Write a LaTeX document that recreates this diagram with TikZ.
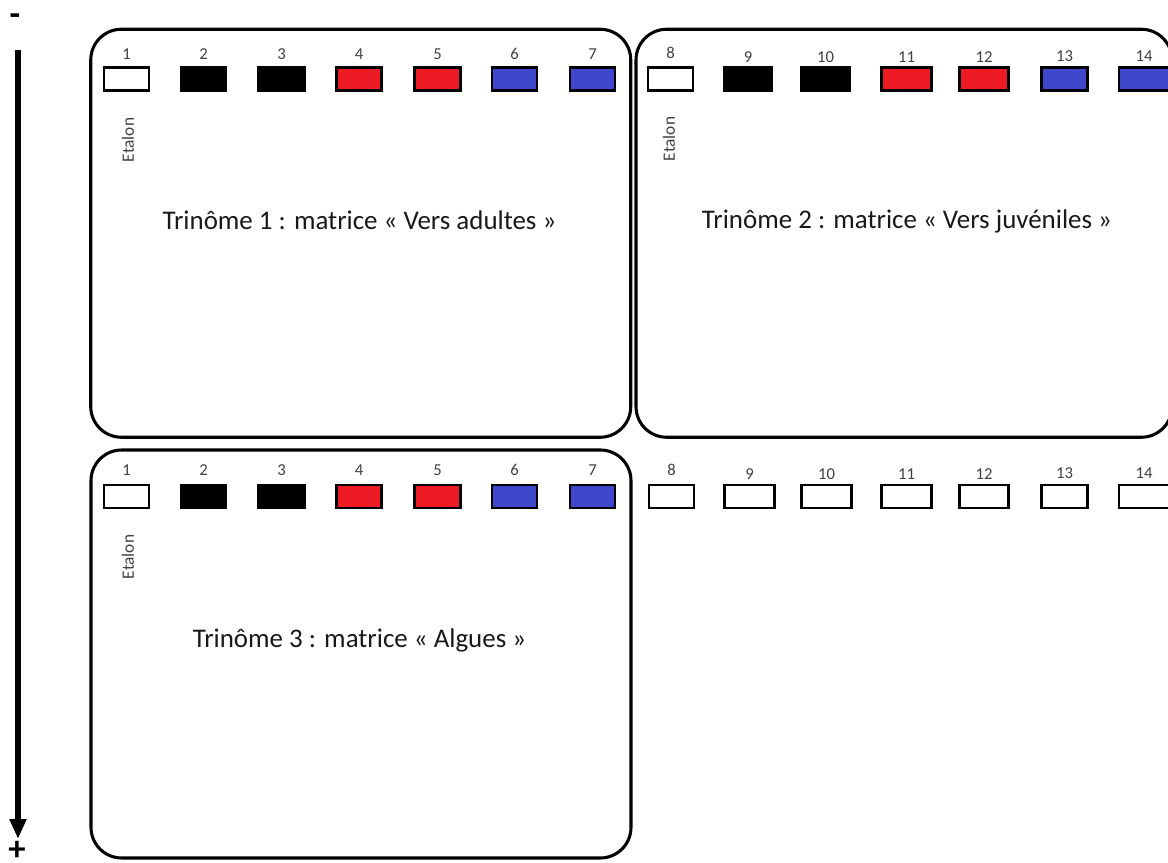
\documentclass[tikz,border=0pt]{standalone}
\usepackage{fontspec}
\setmainfont{Carlito}
\usetikzlibrary{arrows.meta}
\definecolor{wellred}{HTML}{ED1C24}
\definecolor{wellblue}{HTML}{3F48CC}
\definecolor{numgray}{HTML}{404040}
\tikzset{
  frame/.style={draw=black, line width=2.3pt, rounded corners=23pt, inner sep=0pt},
  slot/.style={draw=black, line width=1.9pt, inner sep=0pt, minimum height=17pt},
  wellnum/.style={text=numgray, font=\fontsize{12.5}{14}\selectfont, inner sep=0pt},
  etalon/.style={text=numgray, font=\fontsize{13}{15}\selectfont, rotate=90, inner sep=0pt},
  title/.style={text=black!90, font=\fontsize{20.2}{24}\selectfont, inner sep=0pt},
  sign/.style={font=\fontsize{26}{28}\selectfont\bfseries, inner sep=0pt},
}
\begin{document}
\begin{tikzpicture}[x=0.75pt, y=-0.75pt]
\useasboundingbox (0,0) rectangle (1168,863);

% migration direction
\node[sign] (minus) at (15,20) {-};
\node[sign] (plus) at (17,851) {+};
\coordinate (arrtop) at (18,50);
\coordinate (arrbot) at (18,839);
\draw[line width=4.5pt, -{Triangle[length=15pt,width=12pt]}] (arrtop) -- (arrbot);

% gel frames
\node[frame, minimum width=405pt, minimum height=306pt] (gel1) at (360.75,233.25) {};
\node[frame, minimum width=402pt, minimum height=306pt] (gel2) at (904,233.25) {};
\node[frame, minimum width=405pt, minimum height=306pt] (gel3) at (361,654) {};

% top row of wells (lanes 1 to 14)
\foreach \n/\cx/\w/\c/\ny in {
  1/126.5/45/white/54, 2/203.5/45/black/54, 3/281.5/46/black/54,
  4/359/45/wellred/54, 5/437.5/46/wellred/54, 6/514.5/45/wellblue/54,
  7/592.5/45/wellblue/54, 8/670.5/45/white/53, 9/748/48/black/57,
  10/825.5/48/black/57, 11/906.5/50/wellred/57, 12/984/49/wellred/57,
  13/1064.5/46/wellblue/56, 14/1144/50/wellblue/56}{
  \node[slot, fill=\c, minimum width=\w*0.75pt] (a\n) at (\cx,79) {};
  \node[wellnum] (na\n) at (\cx,\ny) {\n};
}

% bottom row of wells (lanes 1 to 14)
\foreach \n/\cx/\w/\c/\ny in {
  1/126.5/45/white/470, 2/203.5/45/black/470, 3/281.5/46/black/470,
  4/359/45/wellred/470, 5/437.5/46/wellred/470, 6/514.5/45/wellblue/470,
  7/592.5/45/wellblue/470, 8/671.5/45/white/470, 9/749.5/50/white/474,
  10/826.5/50/white/474, 11/906.5/50/white/474, 12/984/49/white/474,
  13/1064.5/46/white/473, 14/1144/50/white/473}{
  \node[slot, fill=\c, minimum width=\w*0.75pt] (b\n) at (\cx,496.5) {};
  \node[wellnum] (nb\n) at (\cx,\ny) {\n};
}

% standard lane labels
\node[etalon] (et1) at (128,140) {Etalon};
\node[etalon] (et2) at (669,139) {Etalon};
\node[etalon] (et3) at (128,557) {Etalon};

% titles
\node[title] (t1) at (359.5,220) {Trinôme 1 : matrice « Vers adultes »};
\node[title] (t2) at (907,221) {Trinôme 2 : matrice « Vers juvéniles »};
\node[title] (t3) at (359.5,640) {Trinôme 3 : matrice « Algues »};
\end{tikzpicture}
\end{document}
